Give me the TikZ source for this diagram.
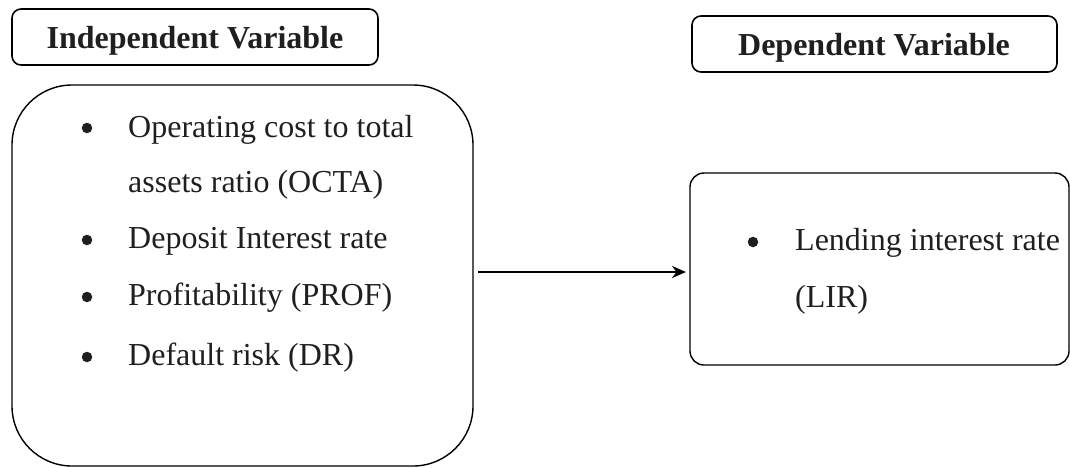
\documentclass[tikz,border=0pt]{standalone}
\usepackage{fontspec}
\setmainfont{Liberation Serif}
\usetikzlibrary{arrows.meta}
\begin{document}
\begin{tikzpicture}[x=1pt,y=-1pt,
  hbox/.style={draw,line width=1.6pt,rounded corners=9pt},
  txt/.style={anchor=base west,inner sep=0pt,font=\fontsize{32}{32}\selectfont,text=black!88},
  head/.style={anchor=base,inner sep=0pt,font=\fontsize{32}{32}\selectfont\bfseries,text=black!88},
  bul/.style={circle,fill=black!88,inner sep=0pt,minimum size=10.5pt}]
\useasboundingbox (0,0) rectangle (1070,467);
% heading boxes
\draw[hbox] (12,9) rectangle (378,65);
\node[head] (ih) at (195,48) {Independent Variable};
\draw[hbox] (692,16) rectangle (1057,72);
\node[head] (dh) at (874,55) {Dependent Variable};
% left big box
\draw[line width=1.4pt,rounded corners=60pt] (12,85) rectangle (473,466);
\node[bul] (b1) at (87,128) {};
\node[txt] (t1) at (128,137) {Operating cost to total};
\node[txt] (t1b) at (128,192) {assets ratio (OCTA)};
\node[bul] (b2) at (87,240) {};
\node[txt] (t2) at (128,248) {Deposit Interest rate};
\node[bul] (b3) at (87,297) {};
\node[txt] (t3) at (128,305) {Profitability (PROF)};
\node[bul] (b4) at (87,357) {};
\node[txt] (t4) at (128,365) {Default risk (DR)};
% right box
\draw[line width=1.4pt,rounded corners=14pt] (690,173) rectangle (1069,365);
\node[bul] (b5) at (753,242) {};
\node[txt] (t5) at (795,250) {Lending interest rate};
\node[txt] (t5b) at (795,307) {(LIR)};
% arrow
\coordinate (as) at (478,272);
\coordinate (ae) at (686,272);
\draw[line width=2.6pt,-{Stealth[length=14pt,width=12pt]}] (as) -- (ae);
\end{tikzpicture}
\end{document}
